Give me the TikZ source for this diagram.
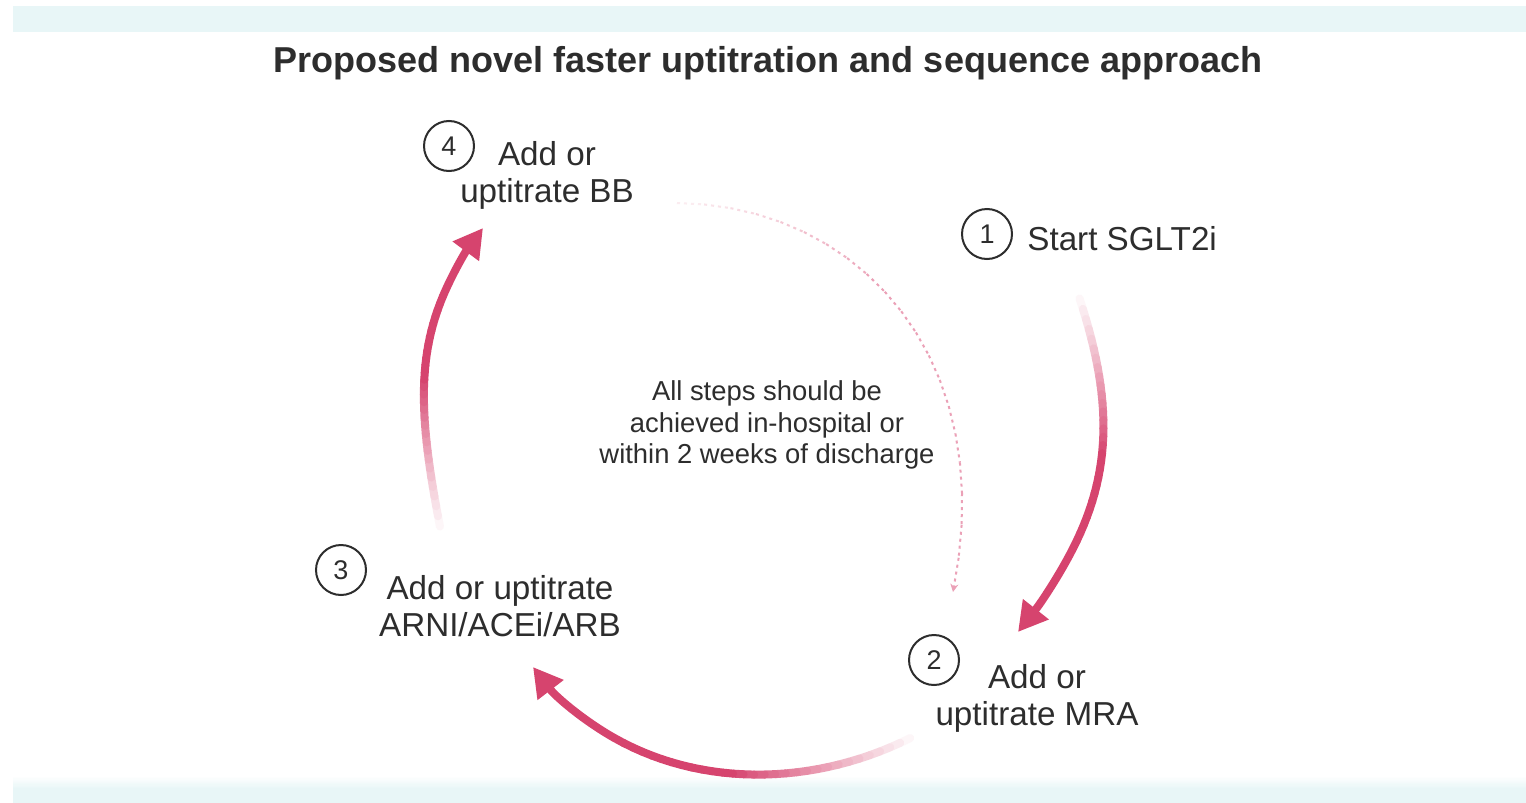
\documentclass[tikz,border=0pt]{standalone}
\usepackage{fontspec}
\setmainfont{Liberation Sans}
\usetikzlibrary{arrows.meta,calc}
\definecolor{arr}{RGB}{214,68,110}
\definecolor{band}{RGB}{232,246,247}
\definecolor{txt}{RGB}{45,45,45}
\newcommand\gradarrow[4]{%
  \coordinate (q0) at (#1);
  \coordinate (q1) at (#2);
  \coordinate (q2) at (#3);
  \coordinate (q3) at (#4);
  \path (q0) .. controls (q1) and (q2) .. (q3)
    \foreach \i in {0,...,40}{ coordinate[pos=\i/40] (g\i) };
  \coordinate (r12) at ($(q1)!0.75!(q2)$);
  \coordinate (r23) at ($(q2)!0.75!(q3)$);
  \coordinate (r123) at ($(r12)!0.75!(r23)$);
  \foreach \i [evaluate=\i as \j using int(\i+1), evaluate=\i as \p using {int(min(100,\i*100/18))}] in {0,...,29}{
    \draw[arr!\p!white, line width=4pt, line cap=round] (g\i) -- (g\j);
  }
  \draw[arr, line width=4pt, -{Triangle[length=14.5pt,width=15.5pt]}] (g30) .. controls (r123) and (r23) .. (q3);
}
\begin{document}
\begin{tikzpicture}[x=0.5pt,y=-0.5pt,
  numc/.style={circle, draw=txt, line width=1pt, minimum size=25pt, inner sep=0pt,
    text=txt, font=\fontsize{13.5pt}{15pt}\selectfont},
  lab/.style={text=txt, align=center, inner sep=0pt, font=\fontsize{16.6pt}{18.5pt}\selectfont},
  note/.style={text=txt, align=center, inner sep=0pt, font=\fontsize{13.7pt}{15.7pt}\selectfont}]
\useasboundingbox (0,0) rectangle (1526,803);
\fill[white] (0,0) rectangle (1526,803);
\fill[band] (13,6) rectangle (1526,32);
\fill[band] (13,788) rectangle (1526,803);
\foreach \k in {0,...,9}{
  \pgfmathsetmacro\pp{int(\k*10)}
  \fill[band!\pp!white] (13,{776+\k*1.2}) rectangle (1526,{777.3+\k*1.2});
}
% title
\node[text=txt, inner sep=0pt, anchor=base, font=\fontsize{18pt}{20pt}\selectfont\bfseries] (title) at (768,72) {Proposed novel faster uptitration and sequence approach};
% step markers
\node[numc] (n1) at (987,234) {1};
\node[numc] (n2) at (934,660) {2};
\node[numc] (n3) at (341,570) {3};
\node[numc] (n4) at (449,146) {4};
% labels
\node[lab, anchor=base west] (l1) at (1027,250) {Start SGLT2i};
\node[lab] (l2) at (1037,698) {Add or\\uptitrate MRA};
\node[lab] (l3) at (500,606) {Add or uptitrate\\ARNI/ACEi/ARB};
\node[lab] (l4) at (547,175) {Add or\\uptitrate BB};
\node[note] (c) at (767,425) {All steps should be\\achieved in-hospital or\\within 2 weeks of discharge};
% arrow coordinates
\coordinate (a1s) at (1076,288);
\coordinate (a1e) at (1018,632);
\coordinate (a2s) at (920,733);
\coordinate (a2e) at (533,667);
\coordinate (a3s) at (442,537);
\coordinate (a3e) at (483,228);
\coordinate (d4s) at (677,203);
\coordinate (d4e) at (953,592);
% main arrows
\gradarrow{a1s}{1125,430}{1110,515}{a1e}
\gradarrow{a2s}{790,803}{625,787}{a2e}
\gradarrow{a3s}{414,395}{412,324}{a3e}
% dotted arrow
\path (d4s) .. controls (860,205) and (1000,360) .. (d4e)
  \foreach \i in {0,...,20}{ coordinate[pos=\i/20] (h\i) };
\foreach \i [evaluate=\i as \j using int(\i+1), evaluate=\i as \p using {int(min(50,10+\i*5))}] in {0,...,18}{
  \draw[arr!\p!white, line width=1pt, dash pattern=on 1.5pt off 2pt] (h\i) -- (h\j);
}
\draw[arr!50!white, line width=1pt, dash pattern=on 1.5pt off 2pt, -{Stealth[length=4pt,width=4pt]}] (h19) -- (h20);
\end{tikzpicture}
\end{document}
